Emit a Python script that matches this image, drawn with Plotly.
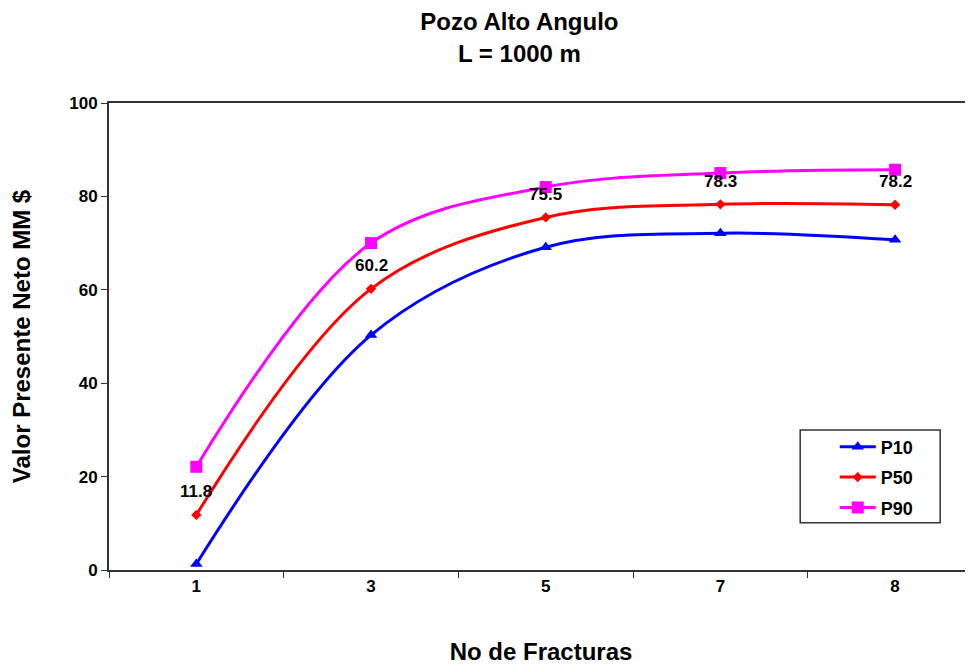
from plotly import graph_objects as go

# data
fracturas = ["1", "3", "5", "7", "8"]
p10 = [1.3, 50.3, 69.1, 72.1, 70.7]
p50 = [11.8, 60.2, 75.5, 78.3, 78.2]
p90 = [22.1, 70.0, 82.0, 85.0, 85.7]

FONT = "Liberation Sans, Arial, sans-serif"

series = [
    ("P10", p10, "#0000ff", "triangle-up", 11),
    ("P50", p50, "#ff0000", "diamond", 8),
    ("P90", p90, "#ff00ff", "square", 12),
]

fig = go.Figure()
for name, vals, color, symbol, size in series:
    fig.add_trace(
        go.Scatter(
            x=fracturas,
            y=vals,
            name=name,
            legendgroup=name,
            mode="lines+markers",
            line=dict(color=color, width=3, shape="spline"),
            marker=dict(color=color, symbol=symbol, size=size),
        )
    )

# value labels for P50, sitting above the points (x is the category index)
for i, v in enumerate(p50):
    fig.add_annotation(
        x=i,
        y=v,
        text=f"{v:.1f}",
        showarrow=False,
        yshift=23,
        font=dict(family=FONT, size=17, color="black", weight="bold"),
    )

# legend frame, wider than plotly's own box
fig.add_shape(
    type="rect",
    xref="paper",
    yref="paper",
    x0=0.80,
    x1=0.962,
    y0=0.101,
    y1=0.30,
    line=dict(color="#333333", width=1.5),
    fillcolor="white",
    layer="below",
)

fig.update_layout(
    width=965,
    height=658,
    margin=dict(l=101, r=0, t=95, b=96),
    paper_bgcolor="white",
    plot_bgcolor="white",
    font=dict(family=FONT, color="black"),
    title=dict(
        text="<b>Pozo Alto Angulo<br>L = 1000 m</b>",
        x=0.53,
        xanchor="center",
        y=0.966,
        yanchor="top",
        font=dict(family=FONT, size=24, color="black"),
    ),
    xaxis=dict(
        type="category",
        range=[-0.5, 4.446],
        tickson="boundaries",
        ticks="outside",
        ticklen=6,
        tickcolor="#333333",
        showline=True,
        linecolor="#333333",
        linewidth=2,
        mirror=True,
        showgrid=False,
        zeroline=False,
        automargin=False,
        tickfont=dict(family=FONT, size=17, color="black", weight="bold"),
        title=dict(
            text="<b>No de Fracturas</b>",
            standoff=48,
            font=dict(family=FONT, size=24, color="black"),
        ),
    ),
    yaxis=dict(
        range=[0, 100],
        tickvals=[0, 20, 40, 60, 80, 100],
        ticks="outside",
        ticklen=6,
        tickcolor="#333333",
        showline=True,
        linecolor="#333333",
        linewidth=2,
        showgrid=False,
        zeroline=False,
        automargin=False,
        tickfont=dict(family=FONT, size=17, color="black", weight="bold"),
        title=dict(
            text="<b>Valor Presente Neto MM $</b>",
            standoff=32,
            font=dict(family=FONT, size=24, color="black"),
        ),
    ),
    legend=dict(
        x=0.84,
        y=0.303,
        xanchor="left",
        yanchor="top",
        bgcolor="rgba(0,0,0,0)",
        borderwidth=0,
        tracegroupgap=4,
        font=dict(family=FONT, size=18, color="black", weight="bold"),
        itemwidth=36,
    ),
)

fig.write_html("out.html")
